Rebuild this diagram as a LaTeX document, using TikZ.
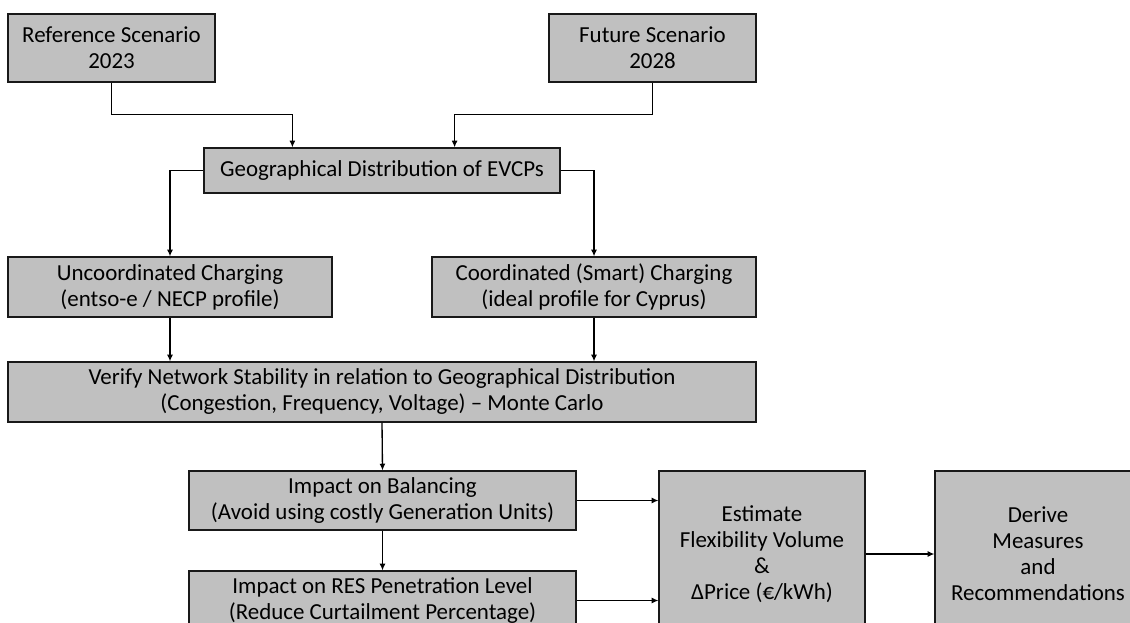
\documentclass[tikz,border=0pt]{standalone}
\usepackage{fontspec}
\setmainfont{Carlito}
\usetikzlibrary{arrows.meta}
\definecolor{boxgray}{HTML}{C0C0C0}
\begin{document}
\begin{tikzpicture}[x=0.75pt,y=-0.75pt,
    box/.style={draw=black!90,fill=boxgray,line width=0.9pt,align=center,inner sep=0pt,
      font=\fontsize{17.2}{19.5}\selectfont},
    arr/.style={-{Latex[length=5pt,width=4.5pt]},line width=1pt}]
  \useasboundingbox (0,0) rectangle (1130,623);
  \clip (0,0) rectangle (1130,623);
  % scenarios
  \node[box,minimum width=155.25pt,minimum height=51pt] (ref) at (111.5,48) {Reference Scenario\\2023};
  \node[box,minimum width=155.25pt,minimum height=51pt] (fut) at (652.5,48) {Future Scenario\\2028};
  \node[box,minimum width=267pt,minimum height=33.75pt] (geo) at (382,170.5) {Geographical Distribution of EVCPs};
  % charging profiles
  \node[box,minimum width=243pt,minimum height=45pt] (unc) at (170,287) {Uncoordinated Charging\\(entso-e / NECP profile)};
  \node[box,minimum width=243pt,minimum height=45pt] (coo) at (594,287) {Coordinated (Smart) Charging\\(ideal profile for Cyprus)};
  \node[box,minimum width=561pt,minimum height=45pt] (ver) at (382,392) {Verify Network Stability in relation to Geographical Distribution\\(Congestion, Frequency, Voltage) -- Monte Carlo};
  % impacts
  \node[box,minimum width=290.25pt,minimum height=44.25pt] (bal) at (382.5,500.5) {Impact on Balancing\\(Avoid using costly Generation Units)};
  \node[box,minimum width=290.25pt,minimum height=44.25pt] (res) at (382.5,600.5) {Impact on RES Penetration Level\\(Reduce Curtailment Percentage)};
  \node[box,minimum width=154.5pt,minimum height=124.5pt] (est) at (762,554) {Estimate\\Flexibility Volume\\\&\\ΔPrice (€/kWh)};
  \node[box,minimum width=154.5pt,minimum height=124.5pt] (der) at (1038,554) {Derive\\Measures\\and\\Recommendations};
  % connectors
  \draw[arr] (ref.south) -- ++(0,32) -| ([xshift=66.75pt]geo.north west);
  \draw[arr] (fut.south) -- ++(0,32) -| ([xshift=-79.5pt]geo.north east);
  \draw[arr] (geo.west) -| (unc.north);
  \draw[arr] (geo.east) -| (coo.north);
  \draw[arr] (unc.south) -- (unc.south |- ver.north);
  \draw[arr] (coo.south) -- (coo.south |- ver.north);
  \draw[arr] (ver.south) -- (bal.north);
  \draw[arr] (bal.south) -- (res.north);
  \draw[arr] (bal.east) -- (bal.east -| est.west);
  \draw[arr] (res.east) -- (res.east -| est.west);
  \draw[arr] (est.east) -- (der.west);
\end{tikzpicture}
\end{document}
